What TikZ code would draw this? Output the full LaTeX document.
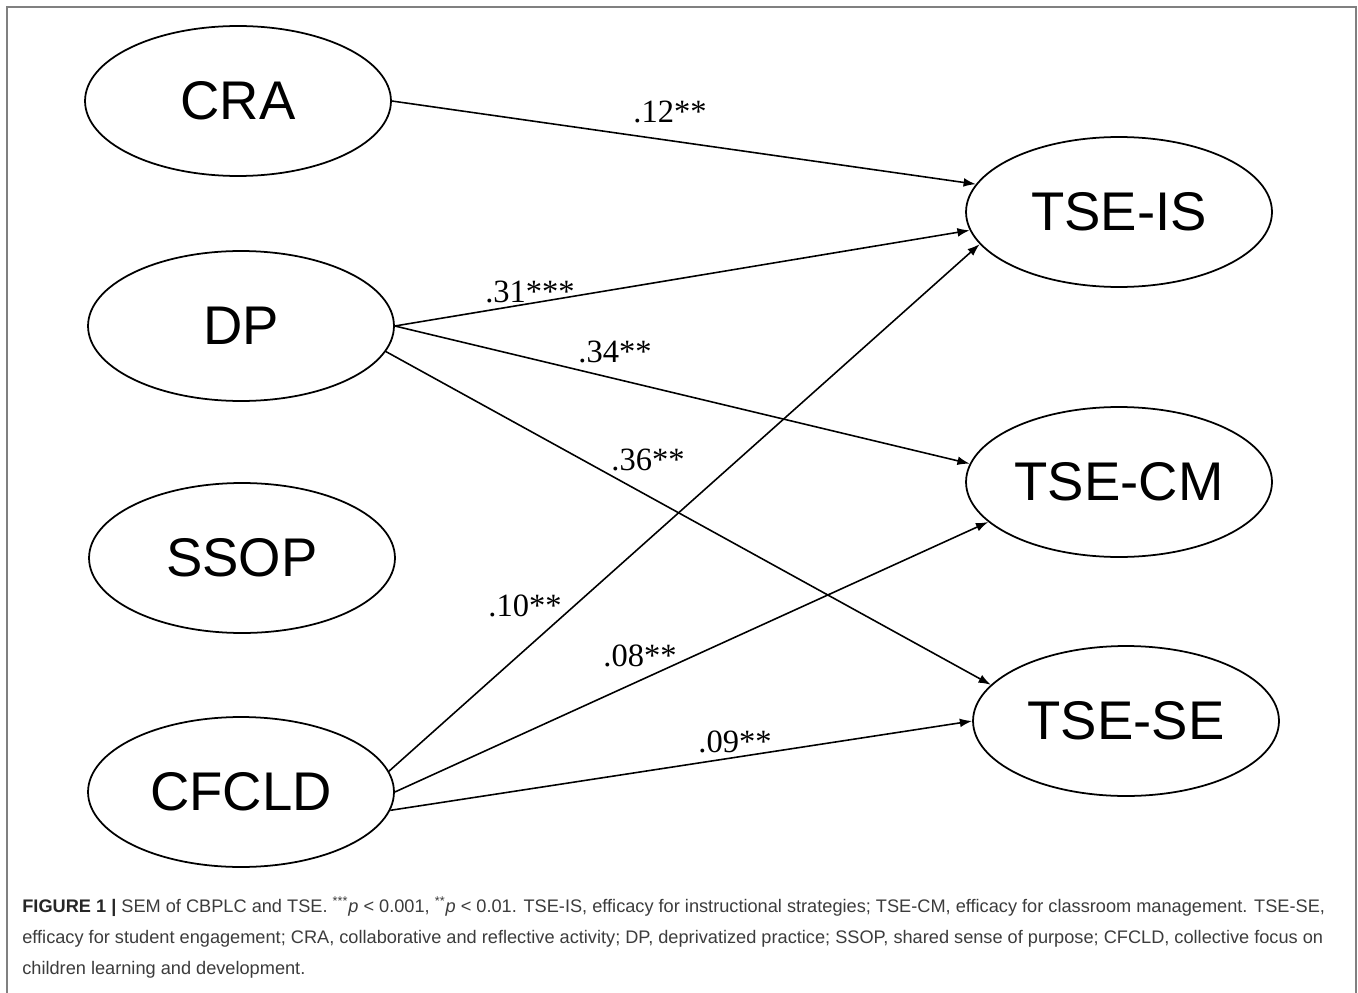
\documentclass[tikz,border=0pt]{standalone}
\usepackage{fontspec}
\setmainfont{Liberation Serif}
\setsansfont{Liberation Sans}
\usetikzlibrary{shapes.geometric, arrows.meta}

\definecolor{framegray}{HTML}{808080}
\definecolor{captext}{HTML}{3C3C3C}

\tikzset{
	latent/.style={ellipse, draw, line width=1pt, minimum width=6.12cm, minimum height=3cm, inner sep=0pt, font=\sffamily\fontsize{31}{31}\selectfont},
	effect/.style={-{Latex[length=7pt,width=5pt]}, line width=0.9pt},
	coef/.style={inner sep=0pt, font=\rmfamily\fontsize{18.5}{18.5}\selectfont},
	captionline/.style={anchor=base west, inner sep=0pt, text=captext, font=\sffamily\fontsize{10.35}{12}\selectfont}
}

\begin{document}
\begin{tikzpicture}[x=0.02cm, y=-0.02cm]
		\useasboundingbox (0,0) rectangle (1358,993);
		\fill [white] (0,0) rectangle (1358,993);
		\draw [framegray, line width=1pt] (7,1000)--(7,7)--(1356,7)--(1356,1000);
		% predictors
		\node[latent] (CRA) at (238,101) {CRA};
		\node[latent] (DP) at (241,326) {DP};
		\node[latent] (SSOP) at (242,558) {SSOP};
		\node[latent] (CFCLD) at (241,792) {CFCLD};
		% outcomes
		\node[latent] (tseis) at (1119,212) {TSE-IS};
		\node[latent] (tsecm) at (1119,482) {TSE-CM};
		\node[latent] (tsese) at (1126,721) {TSE-SE};
		% paths
		\draw [effect] (CRA.east)--(tseis.169);
		\draw [effect] (DP.east)--(tseis.187);
		\draw [effect] (DP.east)--(tsecm.173);
		\draw [effect] (DP.350)--(tsese.165);
		\draw [effect] (CFCLD.8)--(tseis.193);
		\draw [effect] (CFCLD.east)--(tsecm.197);
		\draw [effect] (CFCLD.353)--(tsese.180);
		% coefficients
		\node[coef] (b12) at (670,112) {.12**};
		\node[coef] (b31) at (530,292) {.31***};
		\node[coef] (b34) at (615,352) {.34**};
		\node[coef] (b36) at (648,460) {.36**};
		\node[coef] (b10) at (525,606) {.10**};
		\node[coef] (b08) at (640,656) {.08**};
		\node[coef] (b09) at (735,742) {.09**};
		% caption
		\node[captionline] (cap1) at (22,912) {{\color{black!85}\textbf{FIGURE 1 |}} SEM of CBPLC and TSE. \textsuperscript{***}\textit{p} < 0.001, \textsuperscript{**}\textit{p} < 0.01. TSE-IS, efficacy for instructional strategies; TSE-CM, efficacy for classroom management. TSE-SE,};
		\node[captionline] (cap2) at (22,943) {efficacy for student engagement; CRA, collaborative and reflective activity; DP, deprivatized practice; SSOP, shared sense of purpose; CFCLD, collective focus on};
		\node[captionline] (cap3) at (22,974) {children learning and development.};
	\end{tikzpicture}
\end{document}
